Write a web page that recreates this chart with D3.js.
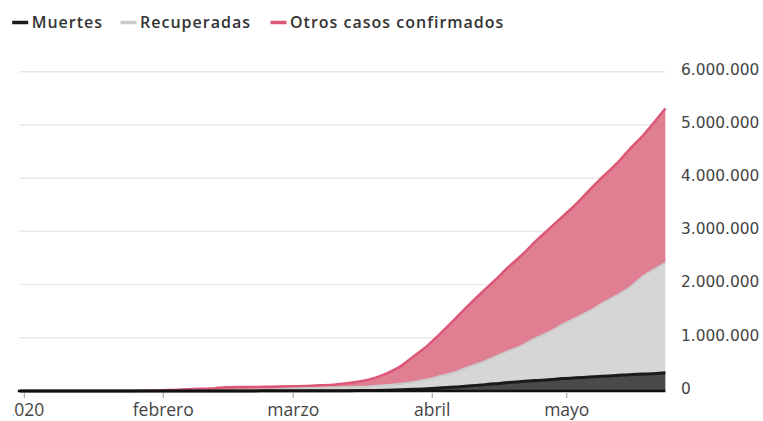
<!DOCTYPE html>
<html><head><meta charset="utf-8">
<script src="https://cdn.jsdelivr.net/npm/d3@7"></script>
<style>body{margin:0;background:#fff} svg{display:block}</style>
</head><body><svg id="c" width="763" height="421"></svg>
<script>
// ---- data (global cumulative) ----
const dates = ["2019-12-31","2020-01-10","2020-01-20","2020-01-22","2020-01-25","2020-01-28","2020-01-31",
"2020-02-03","2020-02-06","2020-02-09","2020-02-12","2020-02-13","2020-02-15","2020-02-18","2020-02-21","2020-02-24","2020-02-27",
"2020-03-01","2020-03-04","2020-03-07","2020-03-10","2020-03-13","2020-03-16","2020-03-19","2020-03-22","2020-03-25","2020-03-28","2020-03-31",
"2020-04-03","2020-04-06","2020-04-09","2020-04-12","2020-04-15","2020-04-18","2020-04-21","2020-04-24","2020-04-27","2020-04-30",
"2020-05-03","2020-05-06","2020-05-09","2020-05-12","2020-05-15","2020-05-18","2020-05-21","2020-05-23"];
const confirmed = [27,41,282,555,2118,5578,9927,
19881,30794,40150,45171,60374,69032,75136,76843,79356,82756,
88369,95124,105824,118592,145193,181546,242713,337020,467653,662073,857487,
1095917,1346004,1603066,1846680,2081000,2329651,2556000,2810000,3041000,3272000,
3506000,3770000,4023000,4262000,4542000,4801000,5102000,5310000];
const deaths = [0,1,6,17,56,131,213,
427,565,906,1118,1371,1666,2009,2251,2629,2810,
2996,3254,3558,4262,5404,7126,10030,14634,21181,30847,42107,
59000,74600,95700,114200,134300,161000,177000,197000,211000,233000,
247000,263000,278000,291000,307000,318000,330000,341000];
const recovered = [0,0,0,28,39,107,222,
623,1487,3244,5150,6295,9395,16155,22886,25227,33277,
42716,51171,57611,64404,68324,72624,84962,97882,113000,140000,178000,
226000,276000,356000,421000,511000,592000,676000,795000,893000,1014000,
1121000,1236000,1375000,1497000,1638000,1838000,1980000,2062000];
const seriesNames = ["Muertes","Recuperadas","Otros casos confirmados"];
const yTicks = [0,1000000,2000000,3000000,4000000,5000000,6000000];
const xTickDates = ["2020-01-01","2020-02-01","2020-03-01","2020-04-01","2020-05-01"];
const xTickLabels = ["2020","febrero","marzo","abril","mayo"];

// ---- styles ----
const fills = ["#4a4a4a","#d6d6d6","#e07e92"];
const strokes = ["#1a1a1a","#cbcbcb","#dc5677"];
const strokeW = [3,2,2.5];

const parse = d3.timeParse("%Y-%m-%d");
const rows = dates.map((d,i)=>({date:parse(d), d:deaths[i], r:recovered[i], o:confirmed[i]-deaths[i]-recovered[i]}));

const svg = d3.select("#c");
const dayPx = 4.483;
const x0 = 24.3; // Jan 1 position
const dStart = parse("2019-12-31"), dEnd = parse("2020-05-23");
const days = d => (d - parse("2020-01-01"))/864e5;
const x = d3.scaleTime().domain([dStart,dEnd]).range([x0+days(dStart)*dayPx, x0+days(dEnd)*dayPx]);
const y = d3.scaleLinear().domain([0,6000000]).range([391,71.7]);

// gridlines
svg.append("g").selectAll("line").data(yTicks.slice(1)).join("line")
  .attr("x1",19).attr("x2",x.range()[1]).attr("y1",d=>y(d)).attr("y2",d=>y(d))
  .attr("stroke","#e9e9e9").attr("stroke-width",1.5);

// y labels
const loc = d3.formatLocale({decimal:",",thousands:".",grouping:[3],currency:["","€"]});
const fmt = loc.format(",d");
svg.append("g").selectAll("text").data(yTicks).join("text")
  .attr("x",681).attr("y",d=>y(d)-2.5).attr("dy","0.35em")
  .attr("font-family","DejaVu Sans").attr("font-size","15.4px").attr("fill","#444")
  .text(d=>fmt(d));

// stacked areas
const stack = d3.stack().keys(["d","r","o"]);
const layers = stack(rows);
const area = d3.area().x(d=>x(d.data.date)).y0(d=>y(d[0])).y1(d=>y(d[1])).curve(d3.curveMonotoneX);
const line = d3.line().x(d=>x(d.data.date)).y(d=>y(d[1])).curve(d3.curveMonotoneX);
svg.append("g").selectAll("path").data(layers).join("path")
  .attr("d",area).attr("fill",(d,i)=>fills[i]);
svg.append("g").selectAll("path").data(layers.slice().reverse()).join("path")
  .attr("d",line).attr("fill","none")
  .attr("stroke",(d)=>strokes[d.index]).attr("stroke-width",d=>strokeW[d.index]);

// baseline
svg.append("line").attr("x1",x.range()[0]-2).attr("x2",x.range()[1]).attr("y1",y(0)).attr("y2",y(0))
  .attr("stroke","#111").attr("stroke-width",2.5);

// x axis ticks + labels
svg.append("defs").append("clipPath").attr("id","xc").append("rect")
  .attr("x",13).attr("y",380).attr("width",750).attr("height",41);
const xg = svg.append("g").attr("clip-path","url(#xc)");
xg.selectAll("line").data(xTickDates).join("line")
  .attr("x1",d=>x(parse(d))).attr("x2",d=>x(parse(d))).attr("y1",393).attr("y2",398)
  .attr("stroke","#999").attr("stroke-width",1);
xg.selectAll("text").data(xTickDates).join("text")
  .attr("x",d=>x(parse(d))).attr("y",416.3).attr("text-anchor","middle")
  .attr("font-family","Open Sans").attr("font-size","17.5px").attr("fill","#444")
  .text((d,i)=>xTickLabels[i]);

// legend
const legTextX = [31.7,140,290];
const lg = svg.append("g");
seriesNames.forEach((n,i)=>{
  lg.append("line").attr("x1",legTextX[i]-19.5).attr("x2",legTextX[i]-3.5).attr("y1",22.5).attr("y2",22.5)
    .attr("stroke",strokes[i]).attr("stroke-width",3.5);
  lg.append("text").attr("x",legTextX[i]).attr("y",28.3)
    .attr("font-family","Open Sans").attr("font-weight",600).attr("font-size","16px")
    .attr("letter-spacing","1px").attr("fill","#333")
    .text(n);
});
</script></body></html>
